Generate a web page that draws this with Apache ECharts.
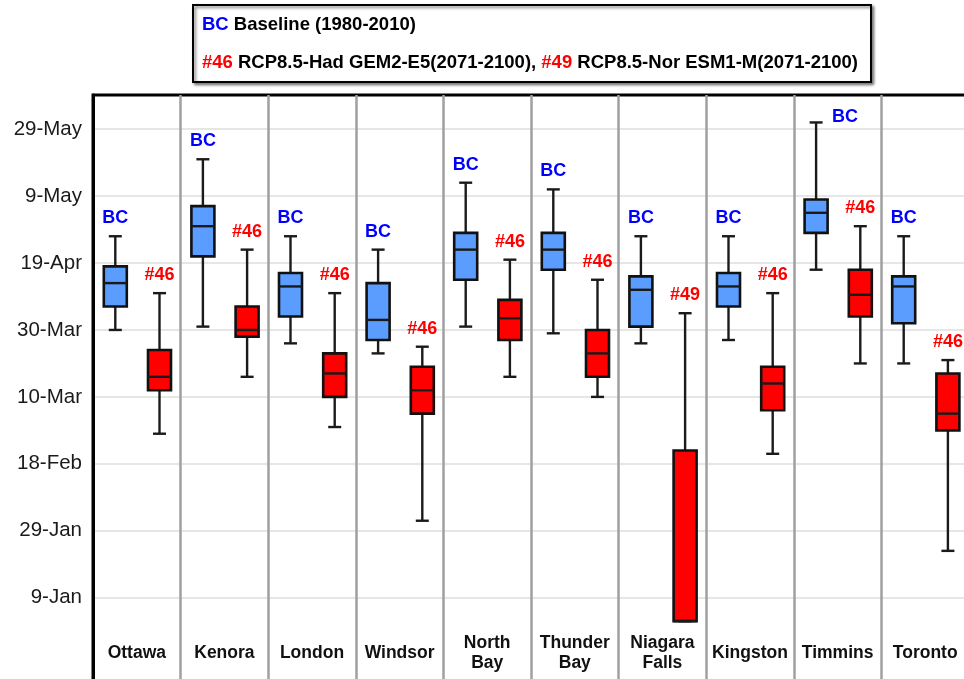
<!DOCTYPE html>
<html>
<head>
<meta charset="utf-8">
<script src="https://cdn.jsdelivr.net/npm/echarts@6/dist/echarts.min.js"></script>
<style>
  html, body { margin: 0; padding: 0; background: #fff; }
  #chart { width: 964px; height: 679px; }
</style>
</head>
<body>
<div id="chart"></div>
<script>
// stations along the x axis
var cities = ['Ottawa', 'Kenora', 'London', 'Windsor', 'North\nBay', 'Thunder\nBay',
  'Niagara\nFalls', 'Kingston', 'Timmins', 'Toronto']

// day of year: [min, Q1, median, Q3, max]
var baselineStats = [
  [89, 96, 103, 108, 117],
  [90, 111, 120, 126, 140],
  [85, 93, 102, 106, 117],
  [82, 86, 92, 103, 113],
  [90, 104, 113, 118, 133],
  [88, 107, 113, 118, 131],
  [85, 90, 101, 105, 117],
  [86, 96, 102, 106, 117],
  [107, 118, 124, 128, 151],
  [79, 91, 102, 105, 117]
]
var futureStats = [
  [58, 71, 75, 83, 100],
  [75, 87, 89, 96, 113],
  [60, 69, 76, 82, 100],
  [32, 64, 71, 78, 84],
  [75, 86, 92.5, 98, 110],
  [69, 75, 82, 89, 104],
  [2, 2, 2, 53, 94],
  [52, 65, 73, 78, 100],
  [79, 93, 99.5, 107, 120],
  [23, 59, 64, 76, 80]
]
var baselineTags = ['BC', 'BC', 'BC', 'BC', 'BC', 'BC', 'BC', 'BC', 'BC', 'BC']
var futureTags = ['#46', '#46', '#46', '#46', '#46', '#46', '#49', '#46', '#46', '#46']

// y ticks (day of year) and their labels
var tickDays = [9, 29, 49, 69, 89, 109, 129, 149]
var tickLabels = ['9-Jan', '29-Jan', '18-Feb', '10-Mar', '30-Mar', '19-Apr', '9-May', '29-May']

var FONT = 'Liberation Sans, Arial, sans-serif'

function toRows(stats) {
  return stats.map(function (s, i) { return [i].concat(s) })
}

// box + whiskers + tag, drawn from the axis coordinates
function makeRender(offset, fill, tags, tagColor) {
  return function (params, api) {
    var i = api.value(0)
    var c = function (d) { return api.coord([i, api.value(d)]) }
    var lo = c(1), q1 = c(2), md = c(3), q3 = c(4), hi = c(5)
    var x = lo[0] + offset
    var hw = 11.5
    var cw = 6.5
    var line = function (x1, y1, x2, y2) {
      return { type: 'line', shape: { x1: x1, y1: y1, x2: x2, y2: y2 },
        style: { stroke: '#1a1a1a', lineWidth: 2.4 } }
    }
    var nearTop = hi[1] - params.coordSys.y < 40
    return {
      type: 'group',
      children: [
        line(x, hi[1], x, q3[1]),
        line(x, q1[1], x, lo[1]),
        line(x - cw, hi[1], x + cw, hi[1]),
        line(x - cw, lo[1], x + cw, lo[1]),
        { type: 'rect', shape: { x: x - hw, y: q3[1], width: hw * 2, height: q1[1] - q3[1] },
          style: { fill: fill, stroke: '#111', lineWidth: 2.6 } },
        line(x - hw, md[1], x + hw, md[1]),
        { type: 'text', x: nearTop ? x + 29 : x, y: nearTop ? hi[1] - 5 : hi[1] - 18,
          style: { text: tags[params.dataIndex], fill: tagColor, font: 'bold 18px ' + FONT,
            align: 'center', verticalAlign: 'middle' } }
      ]
    }
  }
}

var G = '#e6e6e6'
var NONE = 'rgba(0,0,0,0)'
var gridLineColors = [G, NONE, G, G, G, G, G, G, G, G, NONE]

var chart = echarts.init(document.getElementById('chart'))
chart.setOption({
  animation: false,
  textStyle: { fontFamily: FONT },
  grid: {
    left: 93, right: -5, top: 95, bottom: -52.6,
    show: true, borderColor: '#000', borderWidth: 3,
    outerBoundsMode: 'none'
  },
  graphic: [
    { type: 'rect', shape: { x: 193, y: 5, width: 678, height: 77 },
      style: { fill: '#fff', stroke: '#000', lineWidth: 2,
        shadowBlur: 3, shadowOffsetX: 2, shadowOffsetY: 2, shadowColor: 'rgba(0,0,0,0.5)' } },
    { type: 'text', x: 202, y: 25,
      style: { text: '{b|BC} Baseline (1980-2010)', fill: '#000', font: 'bold 18.5px ' + FONT,
        verticalAlign: 'middle',
        rich: { b: { fill: '#0000ff', font: 'bold 18.5px ' + FONT } } } },
    { type: 'text', x: 202, y: 63,
      style: { text: '{r|#46} RCP8.5-Had GEM2-E5(2071-2100), {r|#49} RCP8.5-Nor ESM1-M(2071-2100)',
        fill: '#000', font: 'bold 18.5px ' + FONT, verticalAlign: 'middle',
        rich: { r: { fill: '#ff0000', font: 'bold 18.5px ' + FONT } } } }
  ],
  xAxis: {
    type: 'category',
    data: cities,
    boundaryGap: true,
    axisLine: { show: false },
    axisTick: { show: false },
    splitLine: { show: true, lineStyle: { color: '#a0a0a0', width: 2.5 } },
    axisLabel: {
      inside: true, margin: 78.6, interval: 0, verticalAlign: 'middle',
      fontWeight: 'bold', fontSize: 17.5, lineHeight: 20, color: '#111'
    }
  },
  yAxis: {
    type: 'value',
    min: -31,
    max: 159.2,
    interval: 20,
    axisLine: { show: true, lineStyle: { color: '#000', width: 3 } },
    axisTick: { show: false },
    splitLine: { show: true, lineStyle: { color: gridLineColors, width: 2 } },
    axisLabel: {
      margin: 11, fontSize: 20.5, color: '#1a1a1a',
      formatter: function (v) {
        var k = tickDays.indexOf(Math.round(v))
        return k >= 0 && Math.abs(v - tickDays[k]) < 0.01 ? tickLabels[k] : ''
      }
    }
  },
  series: [
    {
      name: 'Baseline (1980-2010)',
      type: 'custom',
      renderItem: makeRender(-21.5, '#5b9cff', baselineTags, '#0000ff'),
      encode: { x: 0, y: [1, 2, 3, 4, 5] },
      data: toRows(baselineStats)
    },
    {
      name: 'RCP8.5 (2071-2100)',
      type: 'custom',
      renderItem: makeRender(22.7, '#ff0000', futureTags, '#ff0000'),
      encode: { x: 0, y: [1, 2, 3, 4, 5] },
      data: toRows(futureStats)
    }
  ]
})
</script>
</body>
</html>
